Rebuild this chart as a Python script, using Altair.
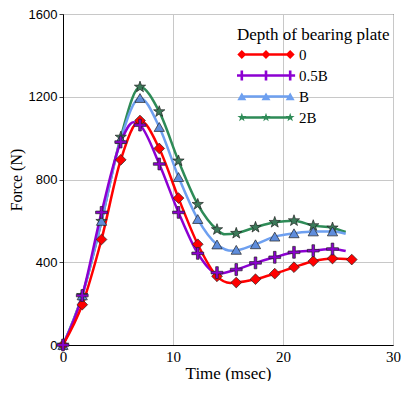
import altair as alt
import pandas as pd

# ---- data ----
series_names = ["0", "0.5B", "B", "2B"]
colors = ["#ff0000", "#8c00d2", "#6ea0f0", "#2e8b57"]
marker_fills = ["#ff0000", "#8c00d2", "#5f8ddc", "#3c7a5a"]

t_markers = [0, 1.75, 3.5, 5.25, 7.0, 8.75, 10.5, 12.25, 14.0, 15.75,
             17.5, 19.25, 21.0, 22.75, 24.5, 26.25]

f_red = [0, 195, 510, 895, 1085, 950, 710, 487, 332, 302, 318, 345, 376, 405, 418, 413]
f_purple = [0, 239, 641, 981, 1063, 875, 641, 443, 350, 365, 397, 424, 448, 456, 464]
f_blue = [0, 240, 600, 995, 1194, 1054, 812, 609, 486, 460, 487, 524, 540, 549, 549]
f_green = [0, 240, 598, 1005, 1247, 1128, 890, 680, 558, 540, 569, 593, 601, 577, 566]

# line traces (markers plus extra points)
line_red_t = [0, 1.75, 3.5, 5.25, 7.0, 8.75, 10.5, 12.25, 14.0, 15.2, 15.75,
              17.5, 19.25, 21.0, 22.75, 24.5, 26.25]
line_red_f = [0, 195, 510, 895, 1085, 950, 710, 487, 332, 300, 302,
              318, 345, 376, 405, 418, 413]
line_purple_t = [0, 1.75, 3.5, 5.25, 6.4, 7.0, 8.75, 10.5, 12.25, 14.1, 15.75,
                 17.5, 19.25, 21.0, 22.75, 24.5, 25.7]
line_purple_f = [0, 239, 641, 981, 1077, 1063, 875, 641, 443, 345, 365,
                 397, 424, 448, 456, 464, 454]
line_blue_t = [0, 1.75, 3.5, 5.25, 7.0, 8.75, 10.5, 12.25, 14.0, 15.4, 17.5,
               19.25, 21.0, 22.75, 24.5, 25.7]
line_blue_f = [0, 240, 600, 995, 1194, 1054, 812, 609, 486, 455, 487,
               524, 540, 549, 549, 538]
line_green_t = [0, 1.75, 3.5, 5.25, 7.0, 8.75, 10.5, 12.25, 14.0, 14.7, 15.75,
                17.5, 19.25, 21.0, 22.75, 24.5, 25.7]
line_green_f = [0, 240, 598, 1005, 1247, 1128, 890, 680, 558, 535, 540,
                569, 593, 601, 577, 566, 546]

x_ticks = [0, 10, 20, 30]
y_ticks = [0, 400, 800, 1200, 1600]

# ---- build tables ----
marker_vals = [f_red, f_purple, f_blue, f_green]
line_t = [line_red_t, line_purple_t, line_blue_t, line_green_t]
line_f = [line_red_f, line_purple_f, line_blue_f, line_green_f]

mk_rows = []
for s, vals in zip(series_names, marker_vals):
    for t, f in zip(t_markers, vals):
        mk_rows.append({"series": s, "t": t, "F": f})
markers = pd.DataFrame(mk_rows)

ln_rows = []
for s, ts, fs in zip(series_names, line_t, line_f):
    for t, f in zip(ts, fs):
        ln_rows.append({"series": s, "t": t, "F": f})
lines = pd.DataFrame(ln_rows)

SERIF = "'Times New Roman', 'Liberation Serif', 'DejaVu Serif', serif"
SANS = "'Liberation Sans', Arial, sans-serif"

# marker shapes (custom paths in [-1,1])
star = ("M0,-1 L0.235,-0.324 L0.951,-0.309 L0.38,0.124 L0.588,0.809 L0,0.4 "
        "L-0.588,0.809 L-0.38,0.124 L-0.951,-0.309 L-0.235,-0.324 Z")
plus = ("M-0.22,-1 L0.22,-1 L0.22,-0.22 L1,-0.22 L1,0.22 L0.22,0.22 L0.22,1 "
        "L-0.22,1 L-0.22,0.22 L-1,0.22 L-1,-0.22 L-0.22,-0.22 Z")
shapes = ["diamond", plus, "triangle-up", star]
sizes = [115, 140, 105, 140]


# legend symbols: line with three markers
def fmt(v):
    return f"{v:.3f}"


def legend_path(kind):
    xs = [-0.834, 0.0, 0.834]
    h = 0.041
    p = f"M-0.834,{-h} L0.834,{-h} L0.834,{h} L-0.834,{h} Z "
    r = 0.155
    for cx in xs:
        if kind == "diamond":
            p += (f"M{fmt(cx - r)},0 L{fmt(cx)},{-r} L{fmt(cx + r)},0 "
                  f"L{fmt(cx)},{r} Z ")
        elif kind == "plus":
            a, w = 0.17, 0.045
            p += (f"M{fmt(cx - w)},{-a} L{fmt(cx + w)},{-a} L{fmt(cx + w)},{-w} "
                  f"L{fmt(cx + a)},{-w} L{fmt(cx + a)},{w} L{fmt(cx + w)},{w} "
                  f"L{fmt(cx + w)},{a} L{fmt(cx - w)},{a} L{fmt(cx - w)},{w} "
                  f"L{fmt(cx - a)},{w} L{fmt(cx - a)},{-w} L{fmt(cx - w)},{-w} Z ")
        elif kind == "triangle":
            p += (f"M{fmt(cx - r)},0.13 L{fmt(cx)},-0.14 L{fmt(cx + r)},0.13 Z ")
        else:
            pts = [(0, -1), (0.235, -0.324), (0.951, -0.309), (0.38, 0.124),
                   (0.588, 0.809), (0, 0.4), (-0.588, 0.809), (-0.38, 0.124),
                   (-0.951, -0.309), (-0.235, -0.324)]
            s = 0.16
            p += "M" + " L".join(f"{fmt(cx + px * s)},{fmt(py * s)}" for px, py in pts) + " Z "
    return p.strip()


legend_paths = [legend_path(k) for k in ["diamond", "plus", "triangle", "star"]]

x_scale = alt.Scale(domain=[0, 30], nice=False)
y_scale = alt.Scale(domain=[0, 1600], nice=False)

x_axis = alt.Axis(values=x_ticks, title="Time (msec)", ticks=False, format="d",
                  labelFont=SERIF, labelFontSize=15, labelPadding=4,
                  labelColor="black", titleFont=SERIF,
                  titleFontSize=17, titleFontWeight="normal", titlePadding=1,
                  titleColor="black", domainColor="black", gridColor="#c8c8c8",
                  labelFlush=False)
y_axis = alt.Axis(values=y_ticks, title="Force (N)", ticks=True, tickSize=4,
                  format="d",
                  tickColor="#444444", labelFont=SANS,
                  labelFontSize=13, labelPadding=2, labelColor="black",
                  titleFont=SERIF, titleFontSize=16,
                  titleFontWeight="normal", titlePadding=4, titleColor="black",
                  domainColor="black", gridColor="#c8c8c8")

base_x = alt.X("t:Q", scale=x_scale, axis=x_axis)
base_y = alt.Y("F:Q", scale=y_scale, axis=y_axis)

layers = []
for idx in [3, 2, 1, 0]:
    s = series_names[idx]
    layers.append(
        alt.Chart(lines).transform_filter(alt.datum.series == s).mark_line(
            interpolate="monotone", strokeWidth=2.5, color=colors[idx]
        ).encode(x=base_x, y=base_y)
    )

for idx in [3, 2, 0, 1]:
    s = series_names[idx]
    layers.append(
        alt.Chart(markers).transform_filter(alt.datum.series == s).mark_point(
            shape=shapes[idx], size=sizes[idx], fill=marker_fills[idx],
            stroke="#222222", strokeWidth=0.7, opacity=1, fillOpacity=1
        ).encode(x="t:Q", y="F:Q")
    )

legend_title = "Depth of bearing plate"
leg = alt.Legend(title=legend_title, orient="none", legendX=174, legendY=13,
                 symbolSize=3364, clipHeight=15, rowPadding=5, labelOffset=4,
                 symbolStrokeWidth=0, titleFont=SERIF,
                 titleFontSize=17, titleFontWeight="normal", titleColor="black",
                 labelFont=SERIF, labelFontSize=15,
                 labelColor="black", titlePadding=3, padding=0,
                 symbolOpacity=1)
legend_layer = alt.Chart(markers).mark_point(
    filled=True, size=3364, opacity=0
).encode(
    x="t:Q", y="F:Q",
    color=alt.Color("series:N", scale=alt.Scale(domain=series_names, range=colors),
                    legend=leg),
    shape=alt.Shape("series:N", scale=alt.Scale(domain=series_names, range=legend_paths),
                    legend=leg),
)
layers.append(legend_layer)

chart = alt.layer(*layers).properties(
    width=393, height=373,
    autosize=alt.AutoSizeParams(type="fit", contains="padding"),
    padding={"left": 0, "top": 0, "right": 0, "bottom": 0},
    background="white",
).configure_view(stroke="black", strokeWidth=1).configure_axis(gridWidth=1)

chart.save("out.html", embed_options={"renderer": "svg", "actions": False})
